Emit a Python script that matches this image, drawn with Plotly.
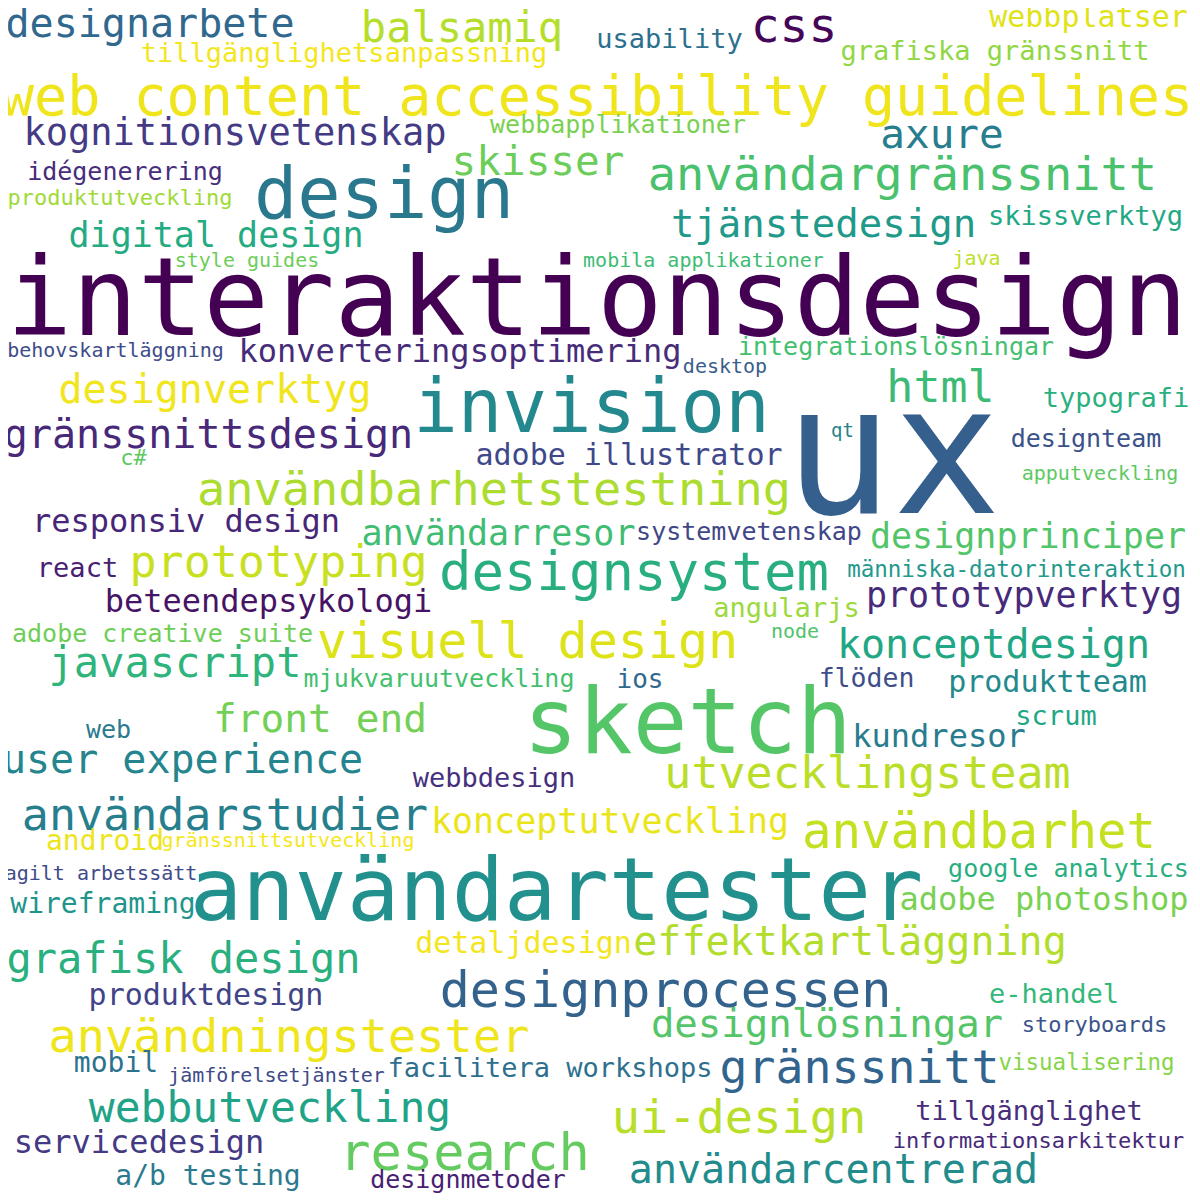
import plotly.graph_objects as go

# word cloud terms, their weight (font size), placement and colour
words = [
    "designarbete", "web content accessibility guidelines", "tillgänglighetsanpassning", "balsamiq",
    "kognitionsvetenskap", "idégenerering", "produktutveckling", "design", "digital design",
    "style guides", "interaktionsdesign", "behovskartläggning", "konverteringsoptimering",
    "designverktyg", "css", "usability", "webbapplikationer", "skisser", "användargränssnitt",
    "tjänstedesign", "mobila applikationer", "integrationslösningar", "desktop", "webbplatser",
    "grafiska gränssnitt", "axure", "skissverktyg", "java", "html", "typografi", "invision", "qt",
    "designteam", "apputveckling", "adobe illustrator", "gränssnittsdesign", "c#",
    "användbarhetstestning", "responsiv design", "användarresor", "systemvetenskap", "prototyping",
    "react", "designsystem", "beteendepsykologi", "prototypverktyg", "designprinciper",
    "människa-datorinteraktion", "angularjs", "node", "adobe creative suite", "visuell design",
    "konceptdesign", "javascript", "mjukvaruutveckling", "ios", "flöden", "produktteam", "sketch",
    "front end", "web", "scrum", "kundresor", "user experience", "utvecklingsteam", "webbdesign",
    "ux", "användarstudier", "konceptutveckling", "användbarhet", "android", "gränssnittsutveckling",
    "agilt arbetssätt", "google analytics", "användartester", "wireframing", "adobe photoshop",
    "detaljdesign", "effektkartläggning", "grafisk design", "designprocessen", "produktdesign",
    "e-handel", "designlösningar", "användningstester", "storyboards", "mobil", "jämförelsetjänster",
    "facilitera workshops", "gränssnitt", "visualisering", "webbutveckling", "ui-design",
    "tillgänglighet", "informationsarkitektur", "servicedesign", "research", "användarcentrerad",
    "a/b testing", "designmetoder",
]

weights = [
    40, 55, 27, 42, 37, 25, 22, 72, 35, 20, 109, 20, 32, 40, 48, 27, 25, 41, 47, 39,
    20, 25, 20, 30, 27, 41, 27, 20, 45, 27, 74, 19, 25, 20, 30, 40, 22, 47, 32, 35,
    25, 45, 27, 54, 32, 35, 35, 22.5, 27, 20, 25, 50, 40, 42, 25, 26, 26.5, 30, 91, 39.5,
    25, 27, 32, 40, 45, 27, 180, 45, 35, 49, 28, 20, 20, 25, 87, 28, 32, 30, 40, 42,
    50, 30, 27, 39, 47, 22, 28, 20, 27, 46.5, 22.5, 43, 47, 27, 22, 32, 52, 40, 28, 25,
]

x_center = [
    150, 597, 344, 462, 235, 125, 120, 384, 216, 247, 597, 115.5, 460, 215, 794, 669.5, 618, 538,
    902.5, 823.5, 703.5, 896, 725, 1088.5, 995, 942, 1085.5, 976.5, 940.5, 1116, 591.5, 842.5,
    1086, 1100, 629, 208.5, 133.5, 494, 186, 498.5, 749, 278.5, 77.5, 634, 268.5, 1024, 1028,
    1016.5, 786.5, 795, 162.5, 527.5, 993.5, 175, 439, 640, 866.5, 1047.5, 687.5, 320, 108.5,
    1056, 939, 182.5, 867.5, 494, 892.5, 225, 610, 979, 105, 288, 101, 1068.5, 556.5, 103, 1044,
    523.5, 850, 183.5, 665.5, 206, 1054, 827, 289, 1094.5, 116, 276.5, 550, 859.5, 1086.5, 270,
    739, 1029, 1038.5, 139, 464.5, 833.5, 208, 468,
]

baseline = [
    37, 115, 62, 42, 145, 180, 205, 218, 247, 267, 335, 357, 362, 403, 42, 48, 133, 175, 190,
    237, 267, 355, 373, 27, 60, 148, 225, 265, 402, 407, 432, 437, 447, 480, 465, 448, 465, 505,
    532, 545, 540, 577, 577, 590, 612, 607, 548, 577, 617, 638, 642, 658, 658, 677, 687, 688, 687,
    692, 753, 732, 738, 725, 747, 773, 788, 787, 513, 830, 833, 848, 850, 847, 880, 877, 920, 913,
    910, 953, 955, 973, 1007, 1005, 1003, 1037, 1052, 1032, 1072, 1082, 1077, 1083, 1070, 1122,
    1133, 1120, 1148, 1153, 1170, 1183, 1185, 1188,
]

colors = [
    "#31688e", "#f0e51c", "#f4e61e", "#b5de2b", "#443b84", "#472d7b", "#a0da39", "#2a788e",
    "#25ab82", "#6ccd5a", "#440154", "#3e4c8a", "#472c7a", "#f1e51d", "#450559", "#2d708e",
    "#7ad151", "#6ccd5a", "#4ac16d", "#1f9a8a", "#3dbc74", "#44bf70", "#3a5e8c", "#dfe318",
    "#90d743", "#287d8e", "#22a884", "#bddf26", "#3cbb75", "#2ab07f", "#23898e", "#26828e",
    "#3b528b", "#5ec962", "#3f4889", "#482878", "#5ec962", "#addc30", "#482677", "#40bd72",
    "#3f4788", "#c8e020", "#482173", "#29af7f", "#471365", "#472a7a", "#52c569", "#23988b",
    "#9bd93c", "#50c46a", "#6ece58", "#dde318", "#22a785", "#2fb47c", "#44bf70", "#31688e",
    "#3d4e8a", "#238a8d", "#55c667", "#73d056", "#2a7b8e", "#22a785", "#287c8e", "#25858e",
    "#bade28", "#46307e", "#355f8d", "#277f8e", "#eae51a", "#c5e021", "#ece51b", "#f6e620",
    "#3f4a8a", "#29af7f", "#22908d", "#1f958b", "#79d152", "#f3e61e", "#b2dd2d", "#2ab07f",
    "#33638d", "#414487", "#35b779", "#54c568", "#efe51c", "#3a548c", "#2c728e", "#3e4a89",
    "#2d708e", "#32648e", "#86d549", "#20a386", "#b8de29", "#472d7b", "#482979", "#443983",
    "#63cb5f", "#228c8d", "#2c7a8e", "#482173",
]

# plotly puts the baseline of "middle center" text a quarter of the font size below the point
y_point = [b - 0.25 * s for b, s in zip(baseline, weights)]

# the page body has an 8px margin, so the figure is drawn 8px smaller and the
# axes start at 8 to keep each word where it sits in the 1200px canvas
PAGE_MARGIN = 8
SIZE = 1200 - PAGE_MARGIN

fig = go.Figure(
    go.Scatter(
        x=x_center,
        y=y_point,
        text=words,
        mode="text",
        textposition="middle center",
        textfont=dict(family="DejaVu Sans Mono", size=weights, color=colors),
        hoverinfo="skip",
        cliponaxis=False,
    )
)

fig.update_layout(
    width=SIZE,
    height=SIZE,
    margin=dict(l=0, r=0, t=0, b=0),
    paper_bgcolor="white",
    plot_bgcolor="white",
    showlegend=False,
)
fig.update_xaxes(range=[PAGE_MARGIN, 1200], visible=False, fixedrange=True)
fig.update_yaxes(range=[1200, PAGE_MARGIN], visible=False, fixedrange=True)

fig.write_html("out.html")
